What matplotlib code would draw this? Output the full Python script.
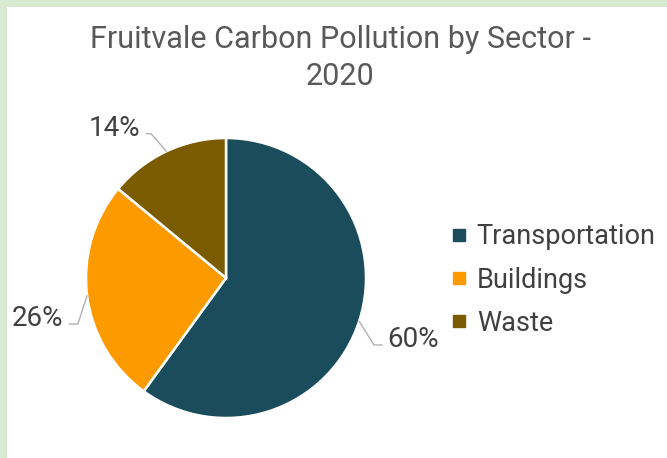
import matplotlib.pyplot as plt
from matplotlib.lines import Line2D
from matplotlib.patches import Rectangle
import numpy as np

plt.rcParams['font.family'] = ['Roboto', 'DejaVu Sans']

# data
sectors = ['Transportation', 'Buildings', 'Waste']
shares = [60, 26, 14]
colors = ['#1a4c5b', '#fd9a00', '#7b5b00']

# label layout: text anchor (data units), connector angle, text side
label_pos = [(1.155, -0.44), (-1.16, -0.29), (-0.61, 1.07)]
leader_angle = [-58, -108, 131]
text_ha = ['left', 'right', 'right']

fig = plt.figure(figsize=(6.67, 4.58), dpi=100)
fig.patch.set_facecolor('#d9ead3')
# white card with a green strip on top and left
fig.patches.append(Rectangle((7 / 667, 0), 1, 1 - 7 / 458, transform=fig.transFigure,
                             facecolor='white', edgecolor='none', zorder=-5))

# axes so pie centre sits at (226, 278) px with radius 140 px
W, H, R = 667, 458, 140
cx, cy = 226, 278
xl, xr, yb, yt = -1.4, 1.4, -1.2, 1.6
ax = fig.add_axes([(cx + xl * R) / W, (H - cy + yb * R) / H,
                   (xr - xl) * R / W, (yt - yb) * R / H])
ax.set_zorder(2)

wedges, _ = ax.pie(shares, colors=colors, startangle=90, counterclock=False,
                   radius=1, wedgeprops=dict(edgecolor='white', linewidth=1.8))
ax.set_xlim(xl, xr)
ax.set_ylim(yb, yt)
ax.set_aspect('equal')
ax.axis('off')

for w, v, pos, ang, ha in zip(wedges, shares, label_pos, leader_angle, text_ha):
    mid = np.deg2rad((w.theta1 + w.theta2) / 2)
    edge = (np.cos(mid), np.sin(mid))
    ax.annotate(f'{v}%', xy=edge, xytext=pos, ha=ha, va='center',
                fontsize=20, color='#404040',
                arrowprops=dict(arrowstyle='-', color='#b0b0b0', lw=1,
                                relpos=(0 if ha == 'left' else 1, 0.3),
                                shrinkA=2, shrinkB=0,
                                connectionstyle=f'angle,angleA=0,angleB={ang},rad=0'))

fig.text(340 / W, 1 - 58 / H, 'Fruitvale Carbon Pollution by Sector -\n2020',
         ha='center', va='center', fontsize=22, color='#595959', linespacing=1.35)

handles = [Line2D([], [], marker='s', linestyle='none', markersize=9,
                  markerfacecolor=c, markeredgecolor=c) for c in colors]
fig.legend(handles, sectors, loc='center left', bbox_to_anchor=(451 / W, 1 - 280 / H),
           frameon=False, fontsize=19.5, labelcolor='#404040', handlelength=0.6,
           handletextpad=0.35, labelspacing=0.6, borderpad=0, borderaxespad=0)

plt.savefig('out.png', dpi=100)
